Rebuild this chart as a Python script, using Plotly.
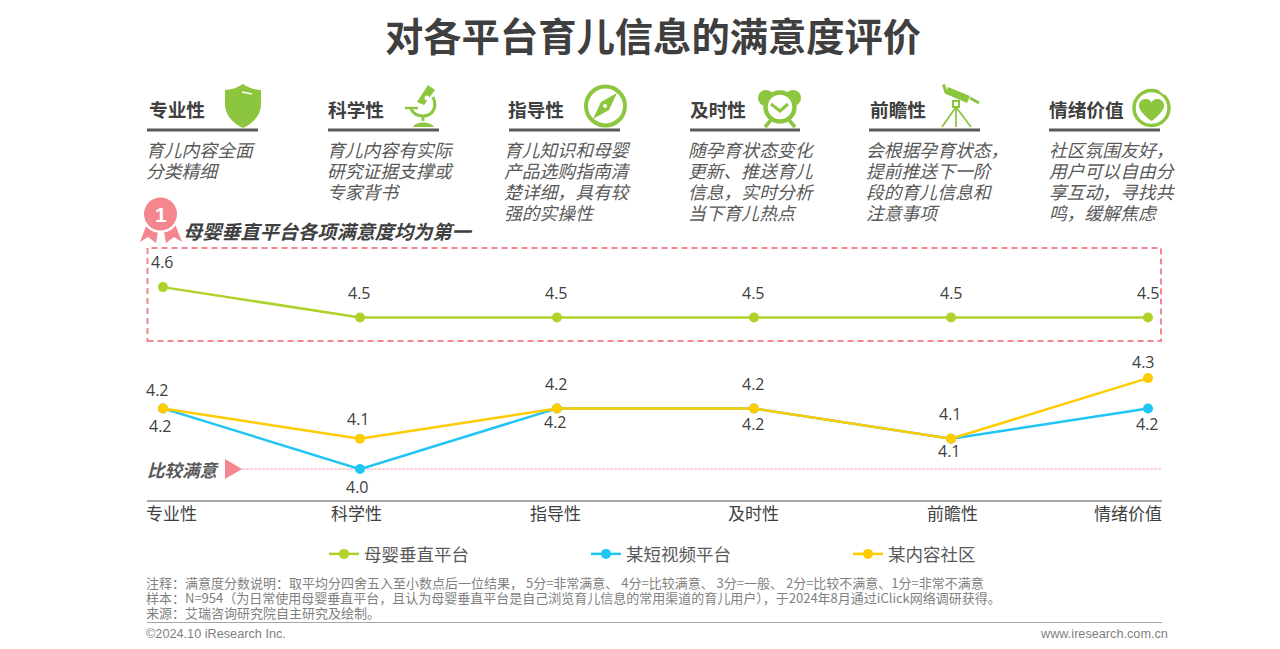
import re
import plotly.graph_objects as go

W, H = 1280, 649
CJK = "Noto Sans CJK SC"
TXT = "#404040"
PINK = "#F4868F"
GREEN = "#8CC63F"

categories = ["专业性", "科学性", "指导性", "及时性", "前瞻性", "情绪价值"]
mother_baby = [4.6, 4.5, 4.5, 4.5, 4.5, 4.5]
short_video = [4.2, 4.0, 4.2, 4.2, 4.1, 4.2]
content_community = [4.2, 4.1, 4.2, 4.2, 4.1, 4.3]
satisfied_level = 4.0
tick_shift = [9, -3, -1, 0, 1, -20]

title = "对各平台育儿信息的满意度评价"
headers = [("专业性", 150), ("科学性", 329), ("指导性", 509), ("及时性", 691), ("前瞻性", 871), ("情绪价值", 1050)]
rules = [(147, 258), (328, 439), (509, 620), (690, 800), (869, 980), (1049, 1160)]
descriptions = [
    (148, ["育儿内容全面", "分类精细"]),
    (329, ["育儿内容有实际", "研究证据支撑或", "专家背书"]),
    (506, ["育儿知识和母婴", "产品选购指南清", "楚详细，具有较", "强的实操性"]),
    (690, ["随孕育状态变化", "更新、推送育儿", "信息，实时分析", "当下育儿热点"]),
    (868, ["会根据孕育状态，", "提前推送下一阶", "段的育儿信息和", "注意事项"]),
    (1051, ["社区氛围友好，", "用户可以自由分", "享互动，寻找共", "鸣，缓解焦虑"]),
]
notes = [
    "注释：满意度分数说明：取平均分四舍五入至小数点后一位结果， 5分=非常满意、 4分=比较满意、 3分=一般、 2分=比较不满意、1分=非常不满意",
    "样本：N=954（为日常使用母婴垂直平台，且认为母婴垂直平台是自己浏览育儿信息的常用渠道的育儿用户），于2024年8月通过iClick网络调研获得。",
    "来源：艾瑞咨询研究院自主研究及绘制。",
]
# label placement per point (pixels from the marker)
label_dy = {
    "母婴垂直平台": [25, 24, 24, 24, 24, 24],
    "某短视频平台": [-18, -18, -14, -16, -12, -16],
    "某内容社区": [18, 20, 24, 24, 25, 16],
}
label_dx = {
    "母婴垂直平台": [0, 0, 0, 0, 0, 0],
    "某短视频平台": [-2, -2, -1, 0, -2, -1],
    "某内容社区": [-5, -1, 0, 0, -1, -5],
}


def px(x):
    return x / W


def py(y):
    return 1 - y / H


def path(d):
    toks = re.findall(r"[A-Za-z]|-?\d+\.?\d*", d)
    out, i = [], 0
    for t in toks:
        if t.isalpha():
            out.append(t)
            i = 0
        else:
            out.append(f"{px(float(t)) if i % 2 == 0 else py(float(t)):.5f}")
            i += 1
    return " ".join(out)


shapes, annos = [], []


def P(d, fill=None, line=None, w=0):
    s = dict(type="path", xref="paper", yref="paper", path=path(d), layer="above")
    s["fillcolor"] = fill if fill else "rgba(0,0,0,0)"
    s["line"] = dict(color=line, width=w) if line else dict(width=0)
    shapes.append(s)


def C(cx, cy, r, fill=None, line=None, w=0):
    shapes.append(dict(type="circle", xref="paper", yref="paper", layer="above",
                       x0=px(cx - r), x1=px(cx + r), y0=py(cy + r), y1=py(cy - r),
                       fillcolor=fill if fill else "rgba(0,0,0,0)",
                       line=dict(color=line, width=w) if line else dict(width=0)))


def T(x, y, text, size, color=TXT, bold=False, italic=False, anchor="left", family=CJK):
    if anchor == "left":
        x -= 2
    annos.append(dict(xref="paper", yref="paper", x=px(x), y=py(y), text=text, showarrow=False,
                      xanchor=anchor, yanchor="middle", borderpad=0,
                      font=dict(family=family, size=size, color=color,
                                weight="bold" if bold else "normal",
                                style="italic" if italic else "normal")))


# texts
T(653, 34.5, title, 38.3, "#3F3F3F", bold=True, anchor="center")
for (h, x), (a, b) in zip(headers, rules):
    T(x, 109, h, 18.7, TXT, bold=True)
    P(f"M{a} 130 L{b} 130", line="#595959", w=3)
for x, lines in descriptions:
    for i, line in enumerate(lines):
        T(x - 1, 149 + i * 21, line, 17.8, "#595959", italic=True)

# shield
P("M243 84 C249 88 255 90 261 90 L261 104 C261 116 252 124 243 128 C234 124 225 116 225 104 L225 90 C231 90 237 88 243 84 Z", fill=GREEN)
P("M242 92 L252 94", line="white", w=1.5)
# microscope
P("M417 102 L428 85 L435 90 L424 105 Z", fill=GREEN)
P("M405 108 L418 108", line=GREEN, w=2.5)
P("M411 109 C414 115 420 116 423 116 C432 116 438 108 433 97", line=GREEN, w=3)
C(427, 98, 2.5, fill="white")
P("M423 116 L423 121", line=GREEN, w=3)
P("M413 127 C415 121 431 121 434 127 Z", fill=GREEN)
# compass
C(605.5, 106, 19.5, line=GREEN, w=4)
P("M617 93 L609 110 L593 119 L601 102 Z", fill=GREEN)
C(605, 106, 2, fill="white")
# clock
C(766, 98, 8, fill=GREEN)
C(793, 98, 8, fill=GREEN)
P("M765 127 L771 120", line=GREEN, w=3.5)
P("M795 127 L789 120", line=GREEN, w=3.5)
C(780, 107, 14.5, fill="white", line=GREEN, w=4.5)
P("M771 104 L780 111 L788 104", line=GREEN, w=3)
# telescope
P("M942 85 L945 84 L948 93 L945 94 Z", fill=GREEN)
P("M948 87 L970 96 L967 103 L946 94 Z", fill=GREEN)
P("M970 98 L979 103", line=GREEN, w=3)
P("M953 101 L959 101 L959 107 L953 107 Z", fill="white", line=GREEN, w=2)
P("M956 107 L942 127", line=GREEN, w=1.8)
P("M956 107 L971 127", line=GREEN, w=1.8)
P("M956 107 L956 127", line=GREEN, w=1.8)
# heart
C(1151.5, 108, 17.5, line=GREEN, w=3.5)
P("M1160 90 L1165 94", line="white", w=2.5)
P("M1151.5 121 C1146 117 1139 111 1139 105.5 C1139 100.5 1143 99 1146 99 C1149 99 1150.5 100.5 1151.5 102.5 C1152.5 100.5 1154 99 1157 99 C1160 99 1164 100.5 1164 105.5 C1164 111 1157 117 1151.5 121 Z", fill=GREEN)

# medal
P("M140 242 L147 224 L158 232 L156 243 L148 237 Z", fill=PINK)
P("M182 242 L175 224 L164 232 L166 243 L174 237 Z", fill=PINK)
C(160.5, 214, 19, fill="white")
C(160.5, 214, 16.5, fill=PINK)
T(160.5, 214, "1", 21, "white", bold=True, anchor="center", family="Liberation Sans")
T(184, 231, "母婴垂直平台各项满意度均为第一", 19.2, TXT, bold=True, italic=True)

# dashed frame
shapes.append(dict(type="rect", xref="paper", yref="paper", x0=px(147.5), x1=px(1161), y0=py(341), y1=py(248),
                   line=dict(color=PINK, width=2, dash="6px,4px"), layer="below"))

# reference level
T(148, 469, "比较满意", 17.5, "#595959", bold=True, italic=True)
P("M225 459 L242 469 L225 479 Z", fill=PINK)
shapes.append(dict(type="line", xref="paper", yref="y", x0=px(242), x1=px(1162), y0=satisfied_level, y1=satisfied_level,
                   line=dict(color="#F4A6AC", width=1, dash="3px,1px"), layer="below"))

# data labels
series = [
    ("母婴垂直平台", mother_baby, "#AFD22B"),
    ("某短视频平台", short_video, "#1FC5F3"),
    ("某内容社区", content_community, "#FFCC00"),
]
for name, vals, col in series:
    for i, v in enumerate(vals):
        annos.append(dict(x=categories[i], y=v, xref="x", yref="y", text=f"{v:.1f}", showarrow=False,
                          xanchor="center", yanchor="middle", yshift=label_dy[name][i], xshift=label_dx[name][i],
                          font=dict(family="Open Sans", size=16, color=TXT)))
for c, shift in zip(categories, tick_shift):
    annos.append(dict(x=c, y=0, xref="x", yref="paper", yanchor="middle", showarrow=False, text=c,
                      yshift=(H - 512), xshift=shift, font=dict(family=CJK, size=17, color=TXT)))

# footer
for i, n in enumerate(notes):
    T(147, 582.5 + i * 15.2, n, 13, "#7F7F7F")
P("M147 622.5 L1162 622.5", line="#A6A6A6", w=1)
T(147, 634, "©2024.10 iResearch Inc.", 12.7, "#7F7F7F", family="Liberation Sans")
T(1169, 634, "www.iresearch.com.cn", 12.7, "#7F7F7F", anchor="right", family="Liberation Sans")

fig = go.Figure()
for name, vals, col in series:
    fig.add_trace(go.Scatter(x=categories, y=vals, name=name, mode="lines+markers",
                             line=dict(color=col, width=2.5), marker=dict(color=col, size=10), cliponaxis=False))

fig.update_layout(
    width=W, height=H, margin=dict(l=0, r=0, t=0, b=0), paper_bgcolor="white", plot_bgcolor="white",
    xaxis=dict(domain=[147 / W, 1162 / W], type="category", categoryorder="array", categoryarray=categories,
               range=[-0.081, 5.071], showgrid=False, zeroline=False, showticklabels=False, ticks="",
               showline=True, linecolor="#A6A6A6", linewidth=2),
    yaxis=dict(domain=[1 - 500 / H, 1 - 248 / H], range=[3.898, 4.729], visible=False),
    legend=dict(orientation="h", x=px(324), y=py(554), xanchor="left", yanchor="middle", entrywidth=217,
                entrywidthmode="pixels", font=dict(family=CJK, size=17.5, color="#595959"),
                bgcolor="rgba(0,0,0,0)", itemclick=False, itemdoubleclick=False),
    shapes=shapes, annotations=annos, font=dict(family=CJK), hovermode=False,
)
fig.write_html("out.html", post_script="document.body.style.margin='0';document.body.style.overflow='hidden';",
               config=dict(displayModeBar=False))
